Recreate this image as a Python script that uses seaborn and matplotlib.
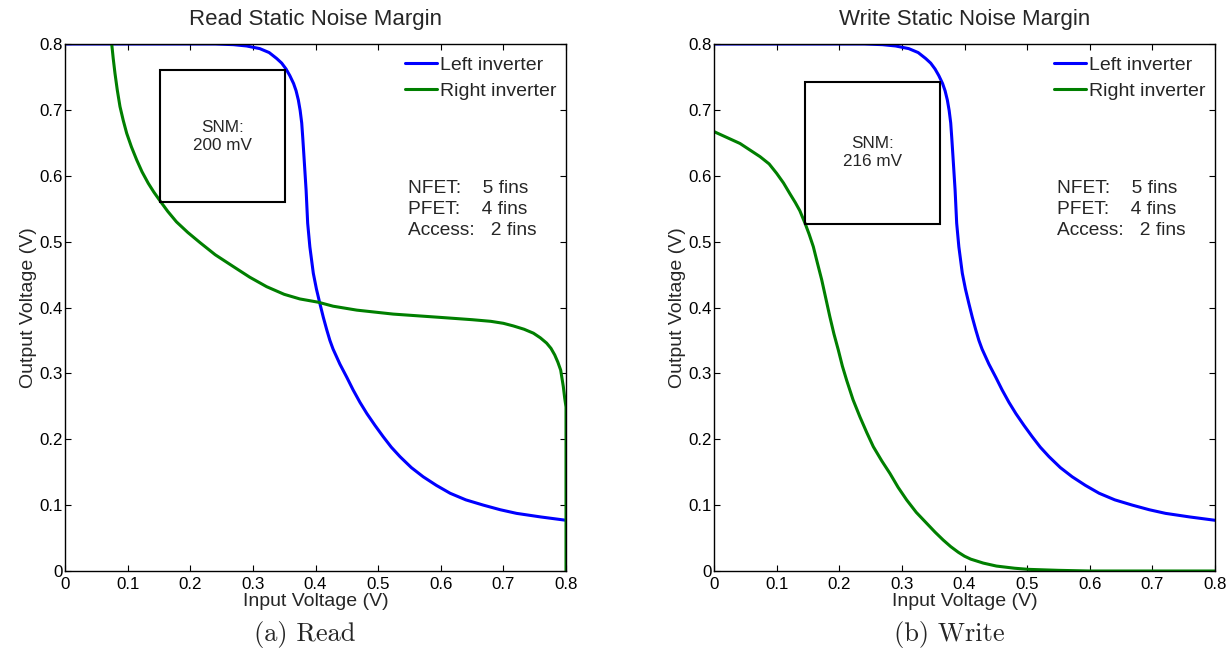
import numpy as np
import pandas as pd
import matplotlib
matplotlib.use("Agg")
import matplotlib.pyplot as plt
import seaborn as sns
from matplotlib.ticker import FuncFormatter, MultipleLocator

# ---------------- data ----------------
# Left inverter (same VTC in both panels)
left_x = [0.0, 0.20, 0.24, 0.269, 0.29, 0.311, 0.326, 0.338, 0.346, 0.353, 0.359, 0.365,
          0.369, 0.3726, 0.3755, 0.378, 0.3797, 0.3816, 0.385, 0.3875, 0.391, 0.3965,
          0.4015, 0.407, 0.4125, 0.418, 0.423, 0.428, 0.439, 0.45, 0.460, 0.471, 0.482,
          0.495, 0.508, 0.521, 0.535, 0.553, 0.572, 0.593, 0.615, 0.64, 0.668, 0.695,
          0.721, 0.76, 0.80]
left_y = [0.80, 0.80, 0.8, 0.799, 0.797, 0.793, 0.787, 0.778, 0.771, 0.762, 0.752, 0.740,
          0.729, 0.715, 0.699, 0.680, 0.657, 0.629, 0.578, 0.528, 0.492, 0.452,
          0.428, 0.406, 0.385, 0.366, 0.35, 0.337, 0.314, 0.294, 0.275, 0.256, 0.239,
          0.221, 0.204, 0.188, 0.1735, 0.157, 0.143, 0.13, 0.118, 0.108, 0.100, 0.093,
          0.0875, 0.082, 0.077]

# Right inverter, read condition
read_right_x = [0.0745, 0.077, 0.0798, 0.0835, 0.0878, 0.093, 0.0985, 0.106, 0.1145, 0.123,
                0.133, 0.142, 0.1517, 0.164, 0.178, 0.196, 0.2156, 0.24, 0.269, 0.295, 0.322,
                0.35, 0.375, 0.4045, 0.428, 0.466, 0.524, 0.599, 0.65, 0.68, 0.70, 0.716,
                0.733, 0.748, 0.759, 0.769, 0.776, 0.782, 0.787, 0.7915, 0.7957, 0.798,
                0.80, 0.80]
read_right_y = [0.801, 0.778, 0.7555, 0.73, 0.705, 0.684, 0.6645, 0.644, 0.624, 0.606,
                0.5885, 0.575, 0.562, 0.546, 0.530, 0.514, 0.4985, 0.48, 0.462, 0.446, 0.4316,
                0.42, 0.413, 0.408, 0.402, 0.396, 0.390, 0.385, 0.3815, 0.379, 0.376, 0.372,
                0.367, 0.361, 0.354, 0.346, 0.338, 0.328, 0.317, 0.305, 0.280, 0.262,
                0.249, 0.0]

# Right inverter, write condition
write_right_x = [0.0, 0.0415, 0.0735, 0.088, 0.1, 0.111, 0.121, 0.13, 0.137, 0.1453, 0.152,
                 0.1586, 0.165, 0.172, 0.1785, 0.185, 0.1915, 0.1985, 0.205, 0.212, 0.222,
                 0.233, 0.244, 0.2544, 0.268, 0.281, 0.294, 0.3077, 0.323, 0.3396, 0.353,
                 0.366, 0.378, 0.390, 0.40, 0.41, 0.43, 0.451, 0.48, 0.502, 0.55, 0.60, 0.80]
write_right_y = [0.667, 0.649, 0.629, 0.618, 0.6037, 0.589, 0.573, 0.559, 0.547, 0.528, 0.511,
                 0.4923, 0.468, 0.442, 0.414, 0.386, 0.36, 0.3355, 0.311, 0.289, 0.26,
                 0.234, 0.21, 0.1887, 0.167, 0.148, 0.127, 0.1078, 0.089, 0.0724, 0.059,
                 0.047, 0.037, 0.0285, 0.0225, 0.018, 0.012, 0.0075, 0.0042, 0.0025, 0.001,
                 0.0, 0.0]

# SNM squares: (x0, y0, side)
read_box = (0.152, 0.56, 0.200)
write_box = (0.145, 0.527, 0.216)
snm_labels = ["SNM:\n200 mV", "SNM:\n216 mV"]
titles = ["Read Static Noise Margin", "Write Static Noise Margin"]
captions = ["(a) Read", "(b) Write"]
fin_text = "NFET:    5 fins\nPFET:    4 fins\nAccess:   2 fins"
series_names = ["Left inverter", "Right inverter"]
xticks = [0, 0.1, 0.2, 0.3, 0.4, 0.5, 0.6, 0.7, 0.8]

# ---------------- style ----------------
sns.set_style("ticks")
plt.rcParams["font.family"] = ["Liberation Sans", "DejaVu Sans"]
plt.rcParams["axes.linewidth"] = 1.0

fig = plt.figure(figsize=(12.3, 6.53), dpi=100)
W, H = 1230, 653
ax_specs = [(65, 566), (714, 1215)]
top_px, bot_px = 44, 571

blue = "#0000ff"
green = "#007f00"

panels = [
    (read_right_x, read_right_y, read_box, snm_labels[0]),
    (write_right_x, write_right_y, write_box, snm_labels[1]),
]

cap_x = [305, 949]

for i, ((lpx, rpx), (rx, ry, box, snm)) in enumerate(zip(ax_specs, panels)):
    ax = fig.add_axes([lpx / W, 1 - bot_px / H, (rpx - lpx) / W, (bot_px - top_px) / H])
    df_l = pd.DataFrame({"x": left_x, "y": left_y})
    df_r = pd.DataFrame({"x": rx, "y": ry})
    sns.lineplot(data=df_l, x="x", y="y", ax=ax, sort=False, estimator=None,
                 color=blue, lw=2.2, label=series_names[0])
    sns.lineplot(data=df_r, x="x", y="y", ax=ax, sort=False, estimator=None,
                 color=green, lw=2.2, label=series_names[1])
    for ln in ax.lines:
        ln.set_solid_joinstyle("round")
    x0, y0, s = box
    ax.add_patch(plt.Rectangle((x0, y0), s, s, fill=False, edgecolor="black", lw=1.5, zorder=3))
    ax.text(x0 + s / 2, y0 + s / 2, snm, ha="center", va="center", fontsize=12.3,
            linespacing=1.22)
    ax.text(0.548, 0.549, fin_text, ha="left", va="center", fontsize=13.8, linespacing=1.33)

    ax.set_xlim(0, 0.8)
    ax.set_ylim(0, 0.8)
    ax.set_xticks(xticks)
    ax.yaxis.set_major_locator(MultipleLocator(0.1))
    fmt = FuncFormatter(lambda v, p: f"{v:g}")
    ax.xaxis.set_major_formatter(fmt)
    ax.yaxis.set_major_formatter(fmt)
    ax.tick_params(direction="in", top=True, right=True, length=4, width=0.8,
                   labelsize=12.2, colors="black")
    ax.tick_params(axis="x", pad=4)
    ax.tick_params(axis="y", pad=1.5)
    for sp in ax.spines.values():
        sp.set_visible(True)
        sp.set_color("black")
    ax.set_title(titles[i], fontsize=16, pad=14)
    ax.set_xlabel("Input Voltage (V)", fontsize=14, labelpad=1)
    ax.set_ylabel("Output Voltage (V)", fontsize=14, labelpad=2)
    ax.legend(loc="upper right", bbox_to_anchor=(0.982, 0.977), frameon=False, fontsize=14,
              handlelength=1.65, handletextpad=0.2, borderaxespad=0, borderpad=0,
              labelspacing=0.45)
    fig.text(cap_x[i] / W, 1 - 635 / H, captions[i], ha="center", va="center",
             fontsize=19, family="cmr10")

fig.savefig("out.png", dpi=100)
